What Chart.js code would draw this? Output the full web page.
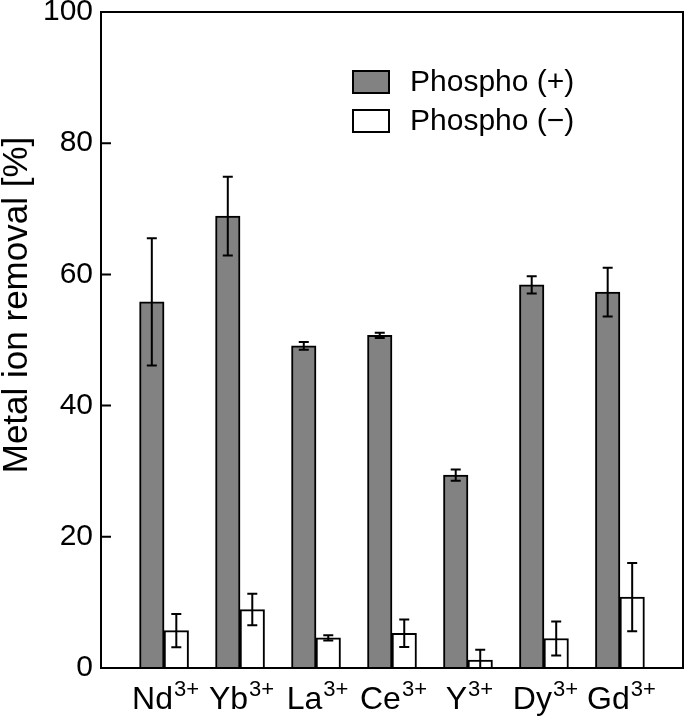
<!DOCTYPE html>
<html lang="en">
<head>
  <meta charset="UTF-8" />
  <title>Metal ion removal</title>
  <script src="https://cdn.jsdelivr.net/npm/chart.js@4.4.0/dist/chart.umd.min.js"></script>
  <style>
    html, body { margin: 0; padding: 0; background: #fff; }
    canvas { display: block; }
  </style>
</head>
<body>
  <canvas id="chart" width="685" height="719"></canvas>
  <script>
    // data
    const ions = ['Nd', 'Yb', 'La', 'Ce', 'Y', 'Dy', 'Gd'];
    const charge = '3+';
    const phosphoPlus = [55.8, 68.9, 49.1, 50.7, 29.4, 58.4, 57.3];
    const phosphoPlusErr = [9.7, 6.0, 0.6, 0.4, 0.85, 1.3, 3.7];
    const phosphoMinus = [5.7, 8.9, 4.6, 5.3, 1.2, 4.5, 10.8];
    const phosphoMinusErr = [2.55, 2.4, 0.4, 2.1, 1.6, 2.6, 5.2];
    const yTicks = [0, 20, 40, 60, 80, 100];

    const FONT = "'Liberation Sans', Arial, Helvetica, sans-serif";
    Chart.defaults.font.family = FONT;
    Chart.defaults.color = '#000';

    const toPoints = vals => vals.map((v, i) => ({ x: i, y: v }));

    const decor = {
      id: 'decor',
      afterDatasetsDraw(chart) {
        const { ctx, chartArea: a, scales: { y } } = chart;
        ctx.save();
        ctx.beginPath();
        ctx.rect(a.left, a.top, a.right - a.left, a.bottom - a.top);
        ctx.clip();
        ctx.strokeStyle = '#000';
        ctx.lineWidth = 2;
        chart.data.datasets.forEach((ds, di) => {
          chart.getDatasetMeta(di).data.forEach((bar, i) => {
            const v = ds.data[i].y, e = ds.errors[i];
            const yt = y.getPixelForValue(v + e);
            const yb = y.getPixelForValue(v - e);
            ctx.beginPath();
            ctx.moveTo(bar.x, yt); ctx.lineTo(bar.x, yb);
            ctx.moveTo(bar.x - 5, yt); ctx.lineTo(bar.x + 5, yt);
            ctx.moveTo(bar.x - 5, yb); ctx.lineTo(bar.x + 5, yb);
            ctx.stroke();
          });
        });
        ctx.restore();
      },
      afterDraw(chart) {
        const { ctx, chartArea: a, scales: { x, y } } = chart;
        ctx.save();
        ctx.strokeStyle = '#000';
        ctx.fillStyle = '#000';
        ctx.lineWidth = 2;

        // frame
        ctx.strokeRect(a.left, a.top, a.right - a.left, a.bottom - a.top);

        // inward ticks on the left axis
        ctx.beginPath();
        yTicks.forEach(v => {
          const py = y.getPixelForValue(v);
          ctx.moveTo(a.left, py);
          ctx.lineTo(a.left + 10, py);
        });
        ctx.stroke();

        // category labels with superscript charge
        ctx.textBaseline = 'alphabetic';
        ctx.textAlign = 'left';
        ions.forEach((ion, i) => {
          const cx = x.getPixelForValue(i);
          ctx.font = '32px ' + FONT;
          const w1 = ctx.measureText(ion).width;
          ctx.font = '22px ' + FONT;
          const w2 = ctx.measureText(charge).width;
          const start = cx - (w1 + w2) / 2 + 1;
          ctx.font = '32px ' + FONT;
          ctx.fillText(ion, start, 709);
          ctx.font = '22px ' + FONT;
          ctx.fillText(charge, start + w1 + 1, 696);
        });

        // y axis title
        ctx.save();
        ctx.translate(27, 305);
        ctx.rotate(-Math.PI / 2);
        ctx.textAlign = 'center';
        ctx.font = '35px ' + FONT;
        ctx.fillText('Metal ion removal [%]', 0, 0);
        ctx.restore();

        // legend
        ctx.font = '30px ' + FONT;
        ctx.textBaseline = 'middle';
        chart.data.datasets.forEach((ds, di) => {
          const top = 71 + di * 39;
          ctx.fillStyle = ds.backgroundColor;
          ctx.fillRect(353, top, 36, 22);
          ctx.strokeRect(353, top, 36, 22);
          ctx.fillStyle = '#000';
          ctx.fillText(ds.label, 410, top + 12);
        });
        ctx.restore();
      }
    };

    new Chart(document.getElementById('chart'), {
      type: 'bar',
      data: {
        datasets: [
          {
            label: 'Phospho (+)',
            data: toPoints(phosphoPlus),
            errors: phosphoPlusErr,
            backgroundColor: '#828282',
            borderColor: '#000',
            borderWidth: 2,
            barThickness: 24.5
          },
          {
            label: 'Phospho (\u2212)',
            data: toPoints(phosphoMinus),
            errors: phosphoMinusErr,
            backgroundColor: '#ffffff',
            borderColor: '#000',
            borderWidth: 2,
            barThickness: 24.5
          }
        ]
      },
      options: {
        responsive: false,
        animation: false,
        devicePixelRatio: 1,
        layout: { padding: { left: 1, top: 0, right: 2, bottom: 0 } },
        plugins: { legend: { display: false }, tooltip: { enabled: false } },
        scales: {
          x: {
            type: 'linear',
            offset: false,
            min: -0.83,
            max: 6.83,
            grid: { display: false, offset: false },
            border: { display: false },
            ticks: { display: false },
            afterFit: s => { s.height = 51; }
          },
          y: {
            min: 0,
            max: 100,
            grid: { display: false, drawTicks: false },
            border: { display: false },
            ticks: { padding: 8, font: { size: 30 }, color: '#000' },
            afterBuildTicks: s => { s.ticks = yTicks.map(v => ({ value: v })); },
            afterFit: s => {
              s.width = 100;
              s.paddingTop = 12;
              s.paddingBottom = 0;
            }
          }
        }
      },
      plugins: [decor]
    });
  </script>
</body>
</html>
